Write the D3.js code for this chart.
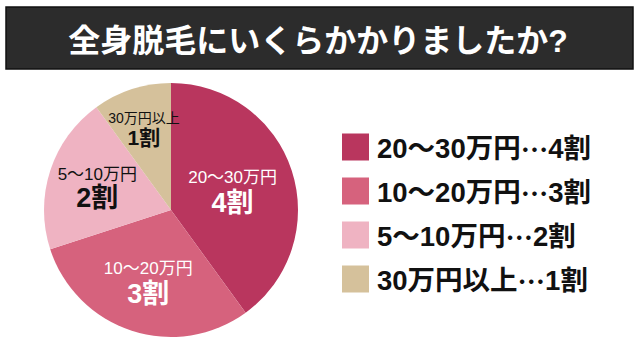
<!DOCTYPE html>
<html><head><meta charset="utf-8">
<script src="https://cdn.jsdelivr.net/npm/d3@7"></script>
<style>
html,body{margin:0;padding:0;background:#fff;}
svg{display:block;font-family:"Liberation Sans","Noto Sans CJK JP",sans-serif;}
</style></head>
<body>
<svg id="chart" width="640" height="344"></svg>
<script>
const title = "全身脱毛にいくらかかりましたか?";
const categories = ["20～30万円", "10～20万円", "5～10万円", "30万円以上"];
const values = [4, 3, 2, 1];
const valueLabels = ["4割", "3割", "2割", "1割"];
const colors = ["#b9365e", "#d6627d", "#efb3c2", "#d5c19b"];
const labelColors = ["#ffffff", "#ffffff", "#111111", "#111111"];

const svg = d3.select("#chart");

// title bar
svg.append("rect").attr("x", 6).attr("y", 7).attr("width", 627).attr("height", 62)
  .attr("fill", "#2c2c2c").attr("stroke", "#111").attr("stroke-width", 1.5);
svg.append("text").attr("x", 318).attr("y", 41)
  .attr("text-anchor", "middle").attr("dominant-baseline", "central")
  .attr("fill", "#fff").attr("font-size", 32).attr("font-weight", 700)
  .text(title);

// pie
const cx = 171, cy = 210, r = 127;
const g = svg.append("g").attr("transform", `translate(${cx},${cy})`);
const pie = d3.pie().sort(null).value(d => d.v);
const data = pie(values.map((v, i) => ({v, i})));
const arc = d3.arc().innerRadius(0).outerRadius(r);
g.selectAll("path").data(data).join("path")
  .attr("d", arc).attr("fill", d => colors[d.data.i]);

const labelR = [0.51, 0.58, 0.61, 0.69];
const catSize = [17, 17, 17, 14];
const valSize = [27, 27, 27, 21];
const catOff = [-12, -12, -12, -9];
const valOff = [13, 14, 12, 11];
data.forEach(d => {
  const i = d.data.i;
  const la = d3.arc().innerRadius(r * labelR[i]).outerRadius(r * labelR[i]);
  const [x, y] = la.centroid(d);
  const lg = g.append("g").attr("transform", `translate(${x},${y})`).attr("fill", labelColors[i]).attr("text-anchor", "middle");
  lg.append("text").attr("y", catOff[i]).attr("dominant-baseline", "central")
    .attr("font-size", catSize[i]).attr("font-weight", 400).text(categories[i]);
  lg.append("text").attr("y", valOff[i]).attr("dominant-baseline", "central")
    .attr("font-size", valSize[i]).attr("font-weight", 700).text(valueLabels[i]);
});

// legend
const ly = d3.scaleBand().domain(categories).range([125, 301]).paddingInner(0);
const lgd = svg.append("g");
categories.forEach((c, i) => {
  const y = ly(c) + ly.bandwidth() / 2;
  lgd.append("rect").attr("x", 342).attr("y", y - 13.5).attr("width", 27).attr("height", 27).attr("fill", colors[i]);
  const t = lgd.append("text").attr("x", 377).attr("y", y + 1).attr("dominant-baseline", "central")
    .attr("font-size", 27.5).attr("font-weight", 700).attr("fill", "#111");
  t.append("tspan").text(c);
  t.append("tspan").attr("font-family", "Noto Sans CJK JP").text("…");
  t.append("tspan").text(valueLabels[i]);
});
</script>
</body></html>
